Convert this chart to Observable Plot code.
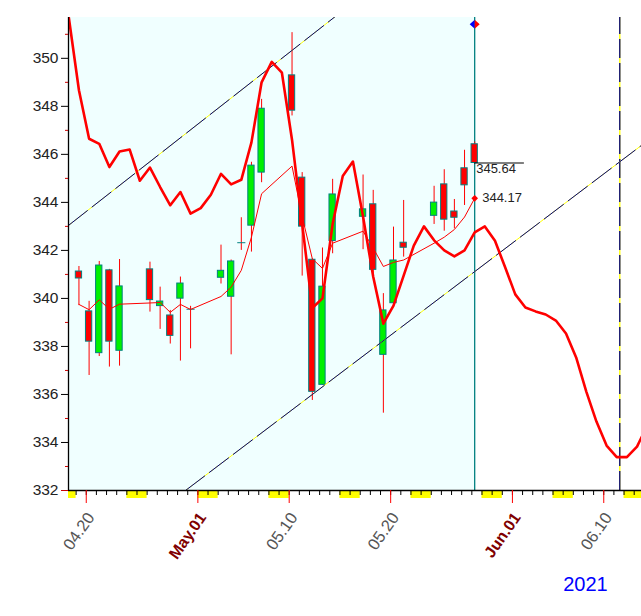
<!DOCTYPE html>
<html><head><meta charset="utf-8">
<script src="https://cdn.jsdelivr.net/npm/d3@7"></script>
<script src="https://cdn.jsdelivr.net/npm/@observablehq/plot@0.6"></script>
<style>body{margin:0;background:#fff}</style>
</head><body><div id="chart"></div>
<script>
// ---- data ----
const candleDates = ["2021-04-19","2021-04-20","2021-04-21","2021-04-22","2021-04-23","2021-04-26","2021-04-27","2021-04-28","2021-04-29","2021-04-30","2021-05-03","2021-05-04","2021-05-05","2021-05-06","2021-05-07","2021-05-10","2021-05-11","2021-05-12","2021-05-13","2021-05-14","2021-05-17","2021-05-18","2021-05-19","2021-05-20","2021-05-21","2021-05-24","2021-05-25","2021-05-26","2021-05-27","2021-05-28"];
const openV  = [341.12,339.46,337.72,341.17,337.82,341.21,339.68,339.29,339.99,339.55,340.86,340.07,342.32,343.03,345.24,349.29,345.03,341.61,336.40,342.39,343.40,343.92,337.65,339.80,342.32,343.44,344.75,343.62,345.42,346.42];
const closeV = [340.83,338.20,341.37,338.20,340.50,339.93,339.87,338.44,340.62,339.55,341.15,341.54,342.32,345.53,347.90,347.82,342.99,336.11,340.49,344.33,343.71,341.19,339.50,341.58,342.11,343.99,343.28,343.36,344.71,345.64];
const highV  = [341.33,339.88,341.54,341.21,341.62,341.51,340.47,339.50,340.89,339.67,342.22,341.60,343.36,345.67,348.29,351.07,345.24,341.65,342.10,344.96,345.14,344.50,340.20,342.97,344.08,344.67,345.36,344.12,346.17,346.51];
const lowV   = [339.70,336.79,337.58,337.14,337.18,339.43,338.71,338.10,337.39,337.90,340.60,337.65,342.00,341.93,344.82,347.60,340.93,335.75,336.38,341.86,342.03,340.89,335.22,339.75,341.72,343.08,342.80,342.90,343.87,345.60];
const maV    = [339.75,339.53,339.94,339.55,339.76,339.81,339.83,339.42,339.75,339.54,340.08,340.47,341.17,342.55,344.36,345.51,343.40,341.65,341.25,342.30,342.80,342.10,341.33,341.50,341.60,342.30,342.55,342.87,343.39,344.17];

// daily cycle curve, one value per calendar day starting at cycleStart
const cycleStart = "2021-04-18";
const cycleValues = [351.7,348.67,346.65,346.44,345.47,346.12,346.2,344.9,345.45,344.64,343.88,344.43,343.53,343.76,344.32,345.19,344.75,344.94,346.5,349.0,349.85,349.4,346.6,343.1,339.6,340.0,343.1,345.1,345.7,343.4,340.9,338.95,339.7,340.95,342.2,343.0,342.42,342.0,341.75,342.0,342.75,343.0,342.4,341.3,340.17,339.62,339.46,339.33,339.08,338.54,337.54,336.12,334.87,333.87,333.39,333.39,333.83,334.7];

// channel lines: [dayIndex, value] (day index 0 = 2021-04-20)
const upperChannel = [[-2.03, 343.04], [24.2, 351.72]];
const lowerChannel = [[9.5, 332.0], [54.44, 346.375]];
const cycleMarkDay = 52.3;
const markerValue = 351.42;

const tickDates  = ["2021-04-20","2021-05-01","2021-05-10","2021-05-20","2021-06-01","2021-06-10"];
const tickLabels = ["04.20","May.01","05.10","05.20","Jun.01","06.10"];
const tickMonth  = [false,true,false,false,true,false];
const weekendStarts = ["2021-04-17","2021-04-24","2021-05-01","2021-05-08","2021-05-15","2021-05-22","2021-05-29","2021-06-05","2021-06-12"];
const yMajor = [332,334,336,338,340,342,344,346,348,350];
const yMinor = [333,335,337,339,341,343,345,347,349,351];
const yearLabel = "2021";

// ---- derived ----
const base = Date.UTC(2021,3,20);
const dayIndex = s => Math.round((Date.parse(s + "T00:00:00Z") - base) / 864e5);
const xmin = -2.03, xmax = 54.44, ymin = 332, ymax = 351.7;
const tickOffset = -0.28;
const candles = candleDates.map((s,i) => ({d: dayIndex(s), open: openV[i], close: closeV[i], high: highV[i], low: lowV[i], ma: maV[i]}));
const last = candles[candles.length - 1];
const cycle = cycleValues.map((v,i) => ({d: dayIndex(cycleStart) + i, v}));
const ticks = tickDates.map((s,i) => ({p: dayIndex(s) + tickOffset, label: tickLabels[i], month: tickMonth[i]}));
const dayTicks = d3.range(-3, 57).map(d => d + tickOffset).filter(p => p >= xmin && p <= xmax);
const weekends = weekendStarts.map(s => ({x1: Math.max(xmin, dayIndex(s) + tickOffset), x2: dayIndex(s) + 2 + tickOffset}));
const up = upperChannel.map(([d,v]) => ({d,v}));
const lo = lowerChannel.map(([d,v]) => ({d,v}));

const half = side => ({draw(ctx, size){ const r = Math.sqrt(size/Math.PI); ctx.moveTo(0,-r*0.9); ctx.lineTo(side*r,0); ctx.lineTo(0,r*0.9); ctx.closePath(); }});
const narrow = "'Liberation Sans Narrow','Arial Narrow',sans-serif";

const chart = Plot.plot({
  width: 641, height: 616,
  marginLeft: 68, marginRight: 0, marginTop: 17, marginBottom: 126,
  style: {fontFamily: "'Liberation Sans', Arial, sans-serif", background: "white"},
  x: {domain: [xmin, xmax], label: null},
  y: {domain: [ymin, ymax], label: null},
  marks: [
    Plot.rect([0], {x1: xmin, x2: last.d, y1: ymin, y2: ymax, fill: "#f0ffff"}),
    Plot.ruleY(weekends, {x1: "x1", x2: "x2", y: ymin, stroke: "#ffff00", strokeWidth: 7, dy: 4}),
    Plot.ruleX([last.d], {y1: ymin, y2: ymax, stroke: "#008080", strokeWidth: 1.3}),
    Plot.ruleX([cycleMarkDay], {y1: ymin, y2: ymax, stroke: "#ffff00", strokeWidth: 1.3}),
    Plot.ruleX([cycleMarkDay], {y1: ymin, y2: ymax, stroke: "#000080", strokeWidth: 1.3, strokeDasharray: "19,5"}),
    Plot.ruleX(candles, {x: "d", y1: "low", y2: "high", stroke: "#ff0000", strokeWidth: 1}),
    Plot.rect(candles.filter(c => c.open !== c.close), {x1: c => c.d - 0.31, x2: c => c.d + 0.31, y1: "open", y2: "close",
      fill: c => c.close > c.open ? "#00f000" : "#ff0000", stroke: "#008080", strokeWidth: 1}),
    Plot.link(candles.filter(c => c.open === c.close), {x1: c => c.d - 0.4, x2: c => c.d + 0.4, y1: "open", y2: "close", stroke: "#008080", strokeWidth: 1}),
    Plot.line(up, {x: "d", y: "v", stroke: "#ffff00", strokeWidth: 1, clip: true}),
    Plot.line(up, {x: "d", y: "v", stroke: "#000080", strokeWidth: 1, strokeDasharray: "24,6", clip: true}),
    Plot.line(lo, {x: "d", y: "v", stroke: "#ffff00", strokeWidth: 1, clip: true}),
    Plot.line(lo, {x: "d", y: "v", stroke: "#000080", strokeWidth: 1, strokeDasharray: "24,6", clip: true}),
    Plot.line(candles, {x: "d", y: "ma", stroke: "#ff0000", strokeWidth: 1}),
    Plot.line(cycle, {x: "d", y: "v", stroke: "#ff0000", strokeWidth: 2.6, clip: true}),
    Plot.dot([last], {x: "d", y: "ma", r: 3, symbol: "diamond2", fill: "#ff0000"}),
    Plot.ruleY([last], {y: "close", x1: "d", x2: d => d.d + 4.9, stroke: "black", strokeWidth: 1}),
    Plot.text([last], {x: "d", y: "close", text: d => d.close.toFixed(2), textAnchor: "start", lineAnchor: "top", dx: 1.5, dy: 1, fontSize: 13, fontFamily: narrow, fill: "#222"}),
    Plot.text([last], {x: "d", y: "ma", text: d => d.ma.toFixed(2), textAnchor: "start", lineAnchor: "middle", dx: 7.5, fontSize: 13, fontFamily: narrow, fill: "#222"}),
    Plot.dot([last], {x: "d", y: markerValue, r: 5, symbol: half(-1), fill: "#0000ff"}),
    Plot.dot([last], {x: "d", y: markerValue, r: 5, symbol: half(1), fill: "#ff0000"}),
    Plot.ruleX([xmin], {y1: ymin, y2: ymax, stroke: "black", strokeWidth: 1.3}),
    Plot.ruleY([ymin], {x1: xmin, x2: xmax, stroke: "black", strokeWidth: 1.3}),
    Plot.axisY({ticks: yMajor.filter(v => v !== ymin), tickSize: 7, tickPadding: 3, stroke: "black", fill: "#222", fontSize: 15.5, fontFamily: narrow}),
    Plot.axisY({ticks: [ymin], tickSize: 7, tickPadding: 3, stroke: "#cc0000", fill: "#222", fontSize: 15.5, fontFamily: narrow}),
    Plot.axisY({ticks: yMinor, tickSize: 3, tickFormat: () => "", stroke: "#cc0000"}),
    Plot.axisX({ticks: dayTicks, tickSize: 5, tickFormat: () => "", stroke: "black"}),
    Plot.axisX({ticks: ticks.map(t => t.p), tickSize: 13, tickFormat: () => "", stroke: "#ff0000"}),
    Plot.text(ticks.filter(t => !t.month), {x: "p", text: "label", frameAnchor: "bottom", dx: 9, dy: 27, rotate: -55, textAnchor: "end", lineAnchor: "bottom", fontSize: 16.5, fill: "#555"}),
    Plot.text(ticks.filter(t => t.month), {x: "p", text: "label", frameAnchor: "bottom", dx: 9, dy: 27, rotate: -55, textAnchor: "end", lineAnchor: "bottom", fontSize: 16, fontWeight: "bold", fill: "#800000"}),
    Plot.text([yearLabel], {text: d => d, frameAnchor: "bottom-right", dx: -56, dy: 100, textAnchor: "middle", lineAnchor: "bottom", fontSize: 20, fill: "#0000ff"})
  ]
});
document.getElementById("chart").appendChild(chart);
</script>
</body></html>
